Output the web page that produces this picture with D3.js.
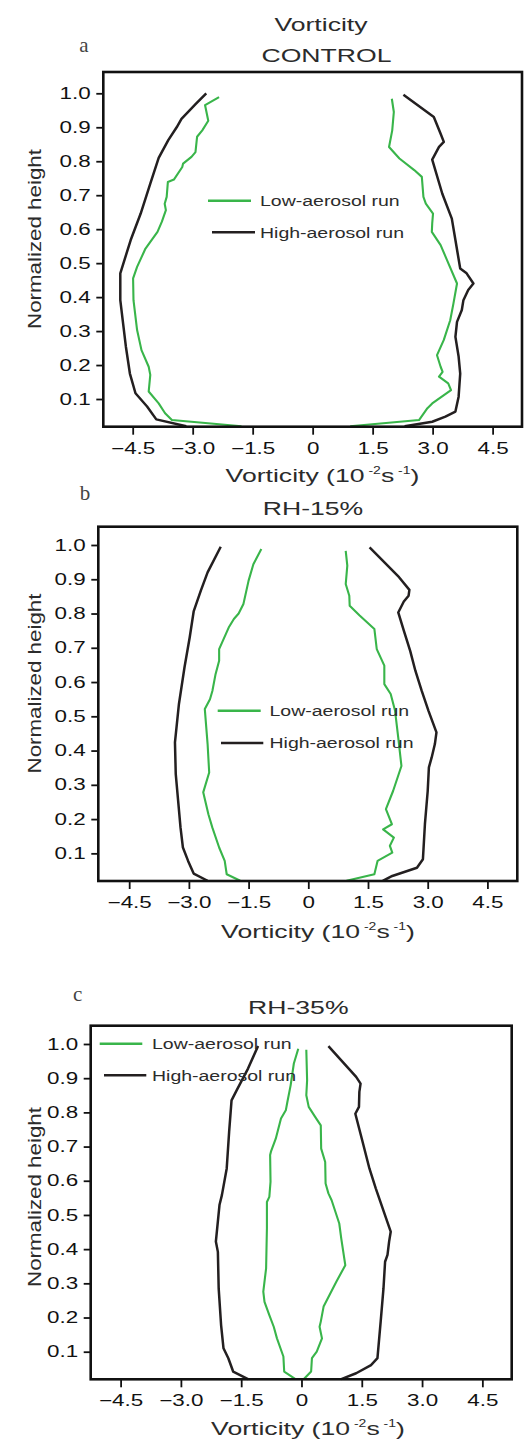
<!DOCTYPE html>
<html>
<head>
<meta charset="utf-8">
<script src="https://cdn.jsdelivr.net/npm/d3@7"></script>
<style>
  body { margin: 0; background: #fff; }
  svg { display: block; }
  text { font-family: "Liberation Sans", Arial, Helvetica, sans-serif; }
</style>
</head>
<body>
<svg id="chart" width="531" height="1440"></svg>
<script>
// vorticity profiles, [vorticity (10^-2 s^-1), normalized height]
// panel a : CONTROL
var ctrlLowLeft = [[-2.34,0.989],[-2.69,0.965],[-2.61,0.919],[-2.76,0.891],[-2.89,0.872],[-2.93,0.827],[-3.03,0.813],[-3.24,0.793],[-3.26,0.783],[-3.47,0.746],[-3.62,0.739],[-3.65,0.695],[-3.70,0.675],[-3.67,0.656],[-3.77,0.622],[-3.88,0.592],[-4.18,0.543],[-4.39,0.489],[-4.49,0.455],[-4.48,0.391],[-4.39,0.303],[-4.28,0.244],[-4.10,0.195],[-4.06,0.171],[-4.10,0.122],[-3.85,0.087],[-3.69,0.058],[-3.52,0.038],[-1.78,0.02]];
var ctrlLowRight = [[1.98,0.984],[2.03,0.945],[1.99,0.891],[1.91,0.842],[2.17,0.808],[2.54,0.774],[2.73,0.754],[2.77,0.695],[2.83,0.675],[3.01,0.646],[2.99,0.617],[2.98,0.592],[3.20,0.553],[3.36,0.509],[3.61,0.44],[3.52,0.381],[3.44,0.332],[3.28,0.274],[3.11,0.229],[3.20,0.195],[3.25,0.18],[3.16,0.166],[3.39,0.146],[3.46,0.126],[2.99,0.087],[2.87,0.073],[2.66,0.038],[0.94,0.02]];
var ctrlHighLeft = [[-2.66,1.0],[-2.91,0.97],[-3.28,0.925],[-3.40,0.90],[-3.61,0.862],[-3.85,0.81],[-4.06,0.734],[-4.30,0.646],[-4.55,0.568],[-4.81,0.47],[-4.81,0.391],[-4.75,0.332],[-4.67,0.254],[-4.57,0.175],[-4.43,0.117],[-4.14,0.078],[-3.91,0.04],[-3.16,0.02]];
var ctrlHighRight = [[2.27,0.996],[3.03,0.93],[3.20,0.881],[3.28,0.857],[3.16,0.842],[2.99,0.805],[3.24,0.705],[3.48,0.631],[3.57,0.568],[3.69,0.484],[3.85,0.47],[4.02,0.44],[3.89,0.421],[3.77,0.391],[3.73,0.362],[3.61,0.327],[3.57,0.283],[3.65,0.225],[3.69,0.175],[3.65,0.107],[3.57,0.063],[3.32,0.048],[2.99,0.033],[2.30,0.02]];

// panel b : RH-15%
var rh15LowLeft = [[-1.18,0.988],[-1.38,0.944],[-1.50,0.896],[-1.63,0.828],[-1.75,0.80],[-1.87,0.784],[-2.00,0.759],[-2.24,0.696],[-2.24,0.662],[-2.33,0.623],[-2.41,0.574],[-2.47,0.55],[-2.60,0.521],[-2.53,0.419],[-2.49,0.336],[-2.64,0.278],[-2.51,0.214],[-2.41,0.175],[-2.24,0.117],[-2.10,0.078],[-2.05,0.039],[-1.71,0.02]];
var rh15LowRight = [[0.94,0.983],[0.98,0.94],[0.94,0.886],[1.03,0.852],[1.04,0.823],[1.29,0.794],[1.66,0.755],[1.72,0.696],[1.91,0.648],[1.91,0.594],[2.07,0.565],[2.18,0.516],[2.26,0.438],[2.34,0.355],[2.13,0.282],[1.95,0.229],[2.10,0.185],[1.88,0.17],[2.15,0.146],[2.05,0.122],[2.11,0.102],[1.74,0.078],[1.66,0.039],[0.96,0.02]];
var rh15HighLeft = [[-2.20,0.995],[-2.53,0.92],[-2.70,0.867],[-2.88,0.806],[-2.98,0.73],[-3.11,0.643],[-3.25,0.536],[-3.35,0.424],[-3.33,0.331],[-3.27,0.253],[-3.21,0.175],[-3.15,0.117],[-3.02,0.078],[-2.88,0.041],[-2.53,0.02]];
var rh15HighRight = [[1.54,0.993],[2.28,0.906],[2.54,0.869],[2.52,0.852],[2.40,0.835],[2.26,0.803],[2.40,0.75],[2.56,0.691],[2.69,0.633],[2.85,0.574],[3.02,0.516],[3.22,0.453],[3.18,0.419],[3.10,0.38],[3.03,0.351],[3.00,0.282],[2.93,0.185],[2.88,0.083],[2.73,0.058],[2.11,0.034],[1.87,0.02]];

// panel c : RH-35%
var rh35LowLeft = [[-0.08,0.986],[-0.19,0.943],[-0.27,0.879],[-0.35,0.831],[-0.39,0.806],[-0.51,0.782],[-0.64,0.723],[-0.76,0.685],[-0.78,0.675],[-0.77,0.597],[-0.80,0.553],[-0.86,0.538],[-0.86,0.461],[-0.88,0.344],[-0.95,0.276],[-0.92,0.246],[-0.80,0.207],[-0.69,0.173],[-0.61,0.139],[-0.45,0.086],[-0.43,0.042],[-0.15,0.02]];
var rh35LowRight = [[0.12,0.983],[0.14,0.894],[0.12,0.85],[0.18,0.816],[0.34,0.787],[0.48,0.762],[0.49,0.694],[0.59,0.655],[0.60,0.592],[0.67,0.563],[0.75,0.543],[0.94,0.475],[0.99,0.431],[1.09,0.353],[0.87,0.305],[0.55,0.232],[0.48,0.188],[0.45,0.173],[0.51,0.139],[0.38,0.10],[0.26,0.081],[0.24,0.042],[0.06,0.02]];
var rh35HighLeft = [[-1.08,0.994],[-1.33,0.928],[-1.61,0.865],[-1.74,0.835],[-1.80,0.743],[-1.86,0.636],[-1.98,0.558],[-2.04,0.529],[-2.13,0.422],[-2.08,0.392],[-2.06,0.285],[-2.00,0.178],[-1.94,0.11],[-1.82,0.081],[-1.70,0.042],[-1.33,0.02]];
var rh35HighRight = [[0.67,0.994],[1.36,0.904],[1.47,0.884],[1.44,0.86],[1.43,0.816],[1.34,0.796],[1.52,0.714],[1.69,0.636],[1.85,0.577],[2.22,0.451],[2.18,0.422],[2.14,0.383],[2.08,0.363],[2.04,0.285],[1.97,0.188],[1.89,0.081],[1.73,0.061],[1.36,0.037],[0.99,0.02]];

var xTicks = [-4.5, -3.0, -1.5, 0, 1.5, 3.0, 4.5];
var yTicks = [0.1, 0.2, 0.3, 0.4, 0.5, 0.6, 0.7, 0.8, 0.9, 1.0];
var runNames = ["Low-aerosol run", "High-aerosol run"];
var runColors = ["#39b54a", "#231f20"];
var runWidths = [2.1, 2.5];

// layout of the three panels (pixel boxes)
var panels = [
  { letter: "a", titles: ["Vorticity", "CONTROL"],
    series: [[ctrlLowLeft, 0], [ctrlLowRight, 0], [ctrlHighLeft, 1], [ctrlHighRight, 1]],
    left: 103.3, right: 522, top: 72, bottom: 426.7,
    xDom: [-5.235, 5.235], yDom: [0.0185, 1.0627],
    letterPos: [84, 51.7], titlePos: [[321, 31], [326.5, 62.3]],
    xTitlePos: [322.5, 481.7], yTitleY: 239,
    legend: [[208, 251, 200.7], [212, 255, 232.3]], legendTx: 260 },
  { letter: "b", titles: ["RH-15%"],
    series: [[rh15LowLeft, 0], [rh15LowRight, 0], [rh15HighLeft, 1], [rh15HighRight, 1]],
    left: 98.3, right: 517.3, top: 526.7, bottom: 881,
    xDom: [-5.276, 5.251], yDom: [0.0193, 1.0534],
    letterPos: [85, 500], titlePos: [[313, 515]],
    xTitlePos: [318, 937.7], yTitleY: 683.5,
    legend: [[217.7, 260.7, 710.7], [221, 263.3, 743]], legendTx: 269.5 },
  { letter: "c", titles: ["RH-35%"],
    series: [[rh35LowLeft, 0], [rh35LowRight, 0], [rh35HighLeft, 1], [rh35HighRight, 1]],
    left: 90.7, right: 511.7, top: 1025.7, bottom: 1379.3,
    xDom: [-5.244, 5.23], yDom: [0.0193, 1.0535],
    letterPos: [77.7, 1000.7], titlePos: [[298.3, 1014]],
    xTitlePos: [308, 1435], yTitleY: 1197,
    legend: [[99.7, 142.3, 1043.7], [104, 146.3, 1075.3]], legendTx: 152 }
];

var SX = 1.4; // the figure's lettering is stretched sideways
var svg = d3.select("#chart");

function xFmt(d) {
  return d === 0 ? "0" : d3.format(".1f")(d);
}

panels.forEach(function(p) {
  var x = d3.scaleLinear().domain(p.xDom).range([p.left, p.right]);
  var y = d3.scaleLinear().domain(p.yDom).range([p.bottom, p.top]);
  var g = svg.append("g").attr("class", "panel-" + p.letter);

  // panel letter
  g.append("text")
    .attr("x", p.letterPos[0]).attr("y", p.letterPos[1])
    .attr("text-anchor", "middle")
    .style("font-family", "'Liberation Serif', 'Times New Roman', serif")
    .style("font-size", "21px").attr("fill", "#444")
    .text(p.letter);

  // titles
  p.titles.forEach(function(t, i) {
    g.append("text")
      .attr("transform", "translate(" + p.titlePos[i][0] + "," + p.titlePos[i][1] + ") scale(" + SX + ",1)")
      .attr("text-anchor", "middle")
      .style("font-size", "19px").attr("fill", "#2b2b2b")
      .text(t);
  });

  // axes
  var yAxis = g.append("g")
    .attr("transform", "translate(" + p.left + ",0)")
    .call(d3.axisLeft(y).tickValues(yTicks).tickSize(7).tickFormat(d3.format(".1f")));
  var xAxis = g.append("g")
    .attr("transform", "translate(0," + p.bottom + ")")
    .call(d3.axisBottom(x).tickValues(xTicks).tickSize(8).tickFormat(xFmt));
  [yAxis, xAxis].forEach(function(a) {
    a.select(".domain").remove();
    a.selectAll(".tick line").attr("stroke", "#111").attr("stroke-width", 1.8);
    a.selectAll(".tick text")
      .attr("fill", "#111")
      .style("font-size", "16px")
      .style("font-family", "'Liberation Sans', Arial, sans-serif");
  });
  yAxis.selectAll(".tick text")
    .attr("x", -12.6 / SX)
    .attr("transform", "scale(" + SX + ",1)");
  xAxis.selectAll(".tick text")
    .attr("y", 15.5)
    .attr("transform", "scale(" + SX + ",1)");

  // curves
  var line = d3.line().x(function(d) { return x(d[0]); }).y(function(d) { return y(d[1]); });
  p.series.forEach(function(s) {
    g.append("path")
      .datum(s[0])
      .attr("d", line)
      .attr("fill", "none")
      .attr("stroke", runColors[s[1]])
      .attr("stroke-width", runWidths[s[1]])
      .attr("stroke-linejoin", "round");
  });

  // frame
  g.append("rect")
    .attr("x", p.left).attr("y", p.top)
    .attr("width", p.right - p.left).attr("height", p.bottom - p.top)
    .attr("fill", "none").attr("stroke", "#111").attr("stroke-width", 2.6);

  // axis titles
  var xt = g.append("text")
    .attr("transform", "translate(" + p.xTitlePos[0] + "," + p.xTitlePos[1] + ") scale(" + SX + ",1)")
    .attr("text-anchor", "middle")
    .style("font-size", "19px").attr("fill", "#2b2b2b");
  xt.append("tspan").text("Vorticity (10");
  xt.append("tspan").attr("dy", -8).style("font-size", "10px").text(" -2");
  xt.append("tspan").attr("dy", 8).text("s");
  xt.append("tspan").attr("dy", -8).style("font-size", "10px").text(" -1");
  xt.append("tspan").attr("dy", 8).text(")");

  g.append("text")
    .attr("transform", "translate(41," + p.yTitleY + ") rotate(-90) scale(1.24,1)")
    .attr("text-anchor", "middle")
    .style("font-size", "18px").attr("fill", "#2b2b2b")
    .text("Normalized height");

  // legend
  p.legend.forEach(function(l, i) {
    g.append("line")
      .attr("x1", l[0]).attr("x2", l[1]).attr("y1", l[2]).attr("y2", l[2])
      .attr("stroke", runColors[i]).attr("stroke-width", 2.6);
    g.append("text")
      .attr("transform", "translate(" + p.legendTx + "," + l[2] + ") scale(1.3,1)")
      .attr("dy", "0.35em")
      .style("font-size", "15px").attr("fill", "#2b2b2b")
      .text(runNames[i]);
  });
});
</script>
</body>
</html>
